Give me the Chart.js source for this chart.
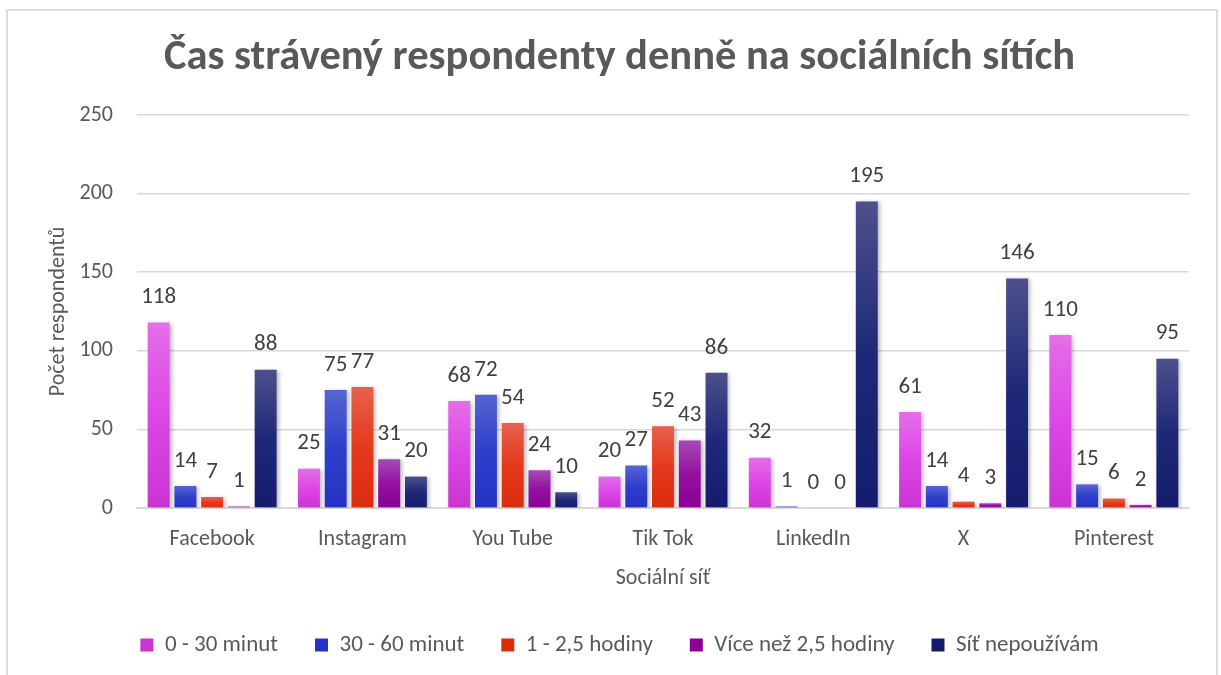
<!DOCTYPE html>
<html>
<head>
<meta charset="utf-8">
<script src="https://cdn.jsdelivr.net/npm/chart.js@4/dist/chart.umd.min.js"></script>
<style>
  html, body { margin: 0; padding: 0; background: #fff; overflow: hidden; }
  #frame { position: absolute; left: 6px; top: 9px; width: 1208px; height: 700px; border: 2px solid #dcdcdc; }
  #c { position: absolute; left: 0; top: 0; }
</style>
</head>
<body>
<div id="frame"></div>
<canvas id="c" width="1221" height="675"></canvas>
<script>
// ── Data ──────────────────────────────────────────────────────────────────────
const networks   = ["Facebook", "Instagram", "You Tube", "Tik Tok", "LinkedIn", "X", "Pinterest"];
const min0to30   = [118, 25, 68, 20, 32, 61, 110];
const min30to60  = [14, 75, 72, 27, 1, 14, 15];
const hr1to25    = [7, 77, 54, 52, 0, 4, 6];
const hrOver25   = [1, 31, 24, 43, 0, 3, 2];
const notUsed    = [88, 20, 10, 86, 195, 146, 95];
const yTicksMax  = 250;

const FONT = "Carlito, Lato, 'Open Sans', sans-serif";
const GREY = "#595959";

// ── Per-bar vertical gradient (lighter top, darker bottom) ───────────────────
function barFill(stops) {
  return (ctx) => {
    const chart = ctx.chart;
    if (ctx.type !== "data" || !chart.chartArea) return stops[1];
    const y = chart.scales.y;
    const top  = y.getPixelForValue(ctx.raw);
    const base = y.getPixelForValue(0);
    if (base - top < 1) return stops[0];
    const g = chart.ctx.createLinearGradient(0, top, 0, base);
    g.addColorStop(0, stops[0]);
    g.addColorStop(0.5, stops[1]);
    g.addColorStop(1, stops[2]);
    return g;
  };
}

const PINK   = ["#e46ee8", "#dd46e6", "#c934d2"];
const BLUE   = ["#5664d2", "#2e3fcc", "#2632c3"];
const RED    = ["#e8614f", "#e5391b", "#db2c0e"];
const PURPLE = ["#a64ab6", "#95109f", "#8a0095"];
const NAVY   = ["#4c508b", "#1f2878", "#151c6d"];

// ── Plugins ───────────────────────────────────────────────────────────────────
const barShadow = {
  id: "barShadow",
  beforeDatasetsDraw(chart) {
    const c = chart.ctx;
    c.save();
    c.shadowColor = "rgba(0,0,0,0.28)";
    c.shadowBlur = 4;
    c.shadowOffsetX = 2;
    c.shadowOffsetY = 1;
  },
  afterDatasetsDraw(chart) { chart.ctx.restore(); }
};

const valueLabels = {
  id: "valueLabels",
  afterDatasetsDraw(chart) {
    const c = chart.ctx;
    c.save();
    c.font = "23px " + FONT;
    c.fillStyle = "#404040";
    c.textAlign = "center";
    c.textBaseline = "middle";
    chart.data.datasets.forEach((ds, i) => {
      chart.getDatasetMeta(i).data.forEach((bar, j) => {
        c.fillText(String(ds.data[j]), bar.x, bar.y - 25);
      });
    });
    c.restore();
  }
};

// ── Chart ─────────────────────────────────────────────────────────────────────
const mk = (label, data, stops) => ({
  label, data,
  backgroundColor: barFill(stops),
  categoryPercentage: 0.89,
  barPercentage: 0.82,
});

new Chart(document.getElementById("c"), {
  type: "bar",
  data: {
    labels: networks,
    datasets: [
      mk("0 - 30 minut", min0to30, PINK),
      mk("30 - 60 minut", min30to60, BLUE),
      mk("1 - 2,5 hodiny", hr1to25, RED),
      mk("Více než 2,5 hodiny", hrOver25, PURPLE),
      mk("Síť nepoužívám", notUsed, NAVY),
    ]
  },
  options: {
    responsive: false,
    animation: false,
    // asymmetric padding so title/legend centre at ~619 like the original
    layout: { padding: { left: 25, right: 7, top: 0, bottom: 8.5 } },
    scales: {
      x: {
        grid: { display: false, drawTicks: false },
        border: { color: "#d9d9d9", width: 2 },
        ticks: { color: GREY, font: { size: 22, family: FONT }, padding: 18 },
        title: { display: true, text: "Sociální síť", color: GREY, font: { size: 22, family: FONT }, padding: { top: 4, bottom: 4.5 } },
        afterFit(s) { s.height = 88.5; }
      },
      y: {
        min: 0, max: yTicksMax,
        grid: { color: "#d9d9d9", lineWidth: 1.5, drawTicks: false },
        border: { display: false },
        ticks: { stepSize: 50, color: GREY, font: { size: 22, family: FONT }, padding: 24 },
        title: { display: true, text: "Počet respondentů", color: GREY, font: { size: 22, family: FONT }, padding: { top: 20, bottom: 0 } },
        afterFit(s) { s.width = 112; }
      },
      // empty right-hand spacer so the plot ends at x≈1189
      spacer: {
        type: "linear", position: "right", display: true,
        grid: { display: false, drawTicks: false },
        border: { display: false },
        ticks: { display: false },
        afterFit(s) { s.width = 25; }
      }
    },
    plugins: {
      title: {
        display: true,
        text: "Čas strávený respondenty denně na sociálních sítích",
        color: GREY,
        font: { size: 42.5, weight: "bold", family: FONT },
        padding: { top: 33, bottom: 31 }
      },
      legend: {
        position: "bottom",
        labels: {
          color: GREY,
          font: { size: 23, family: FONT },
          boxWidth: 13, boxHeight: 13,
          padding: 37
        }
      },
      tooltip: { enabled: false }
    }
  },
  plugins: [barShadow, valueLabels]
});
</script>
</body>
</html>
